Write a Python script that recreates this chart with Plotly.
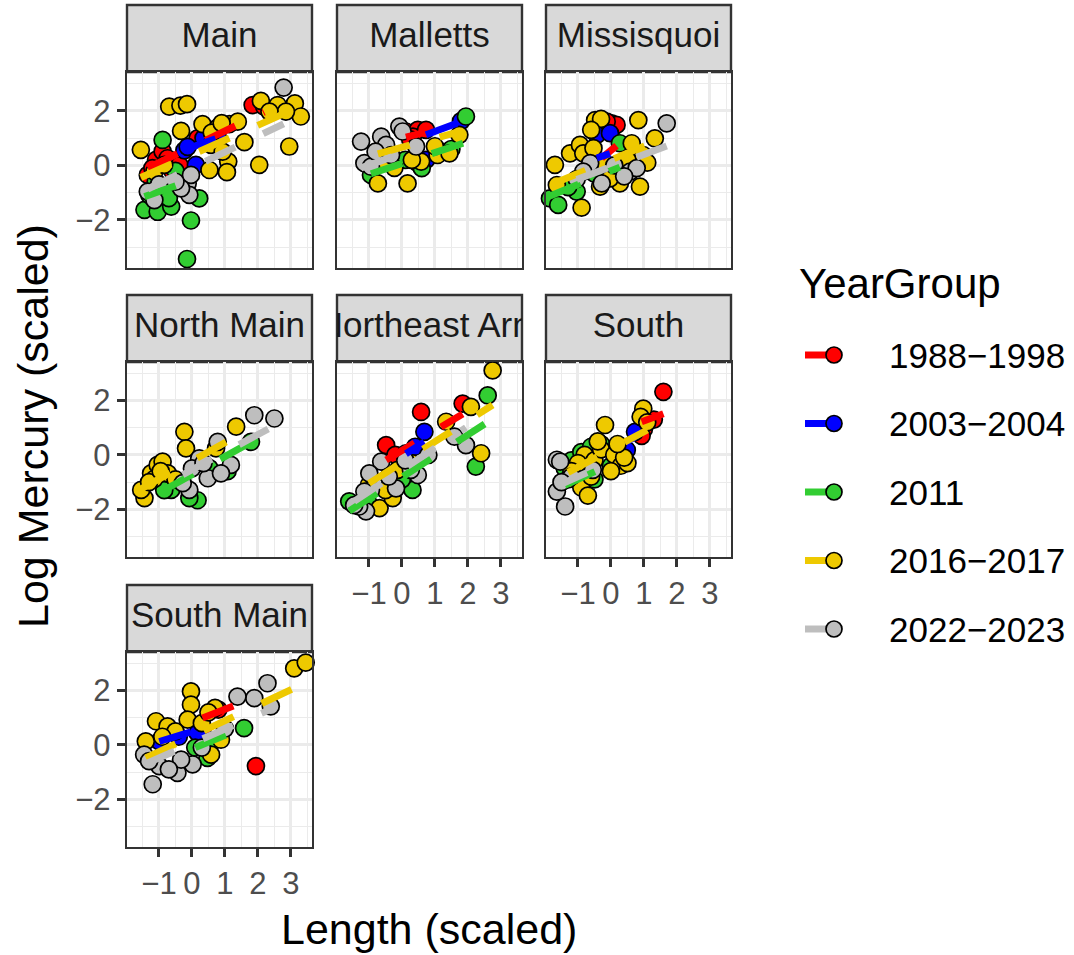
import plotly.graph_objects as go

W, H = 1074, 955

YEAR_GROUPS = ["1988−1998", "2003−2004", "2011", "2016−2017", "2022−2023"]
GROUP_COLORS = ["#FF0000", "#0000FF", "#32CD32", "#EEC900", "#BEBEBE"]
PANELS = ["Main", "Malletts", "Missisquoi", "North Main", "Northeast Arm", "South", "South Main"]
X_TICKS = [-1, 0, 1, 2, 3]
X_TICKTEXT = ["−1", "0", "1", "2", "3"]
Y_TICKS = [-2, 0, 2]
Y_TICKTEXT = ["−2", "0", "2"]
X_TITLE = "Length (scaled)"
Y_TITLE = "Log Mercury (scaled)"
LEGEND_TITLE = "YearGroup"

# ---- observed points: (scaled length, scaled log mercury) ----
main_pts = {
    "1988−1998": [(-1.34, -0.35), (-1.09, 0.20), (-0.89, 0.51), (-0.74, 0.26), (-0.89, -0.96), (-0.38, 0.02),
                  (-1.20, -0.10), (0.17, 0.99), (0.45, 1.10), (1.84, 2.21), (2.19, 2.15), (-0.60, -0.20)],
    "2003−2004": [(-0.23, 0.55), (-0.13, 0.68), (0.12, 0.02), (0.35, 1.00), (0.78, 1.05)],
    "2011": [(-1.44, -1.63), (-1.04, -1.70), (-0.63, -1.51), (-0.89, 0.93), (-1.29, -1.09), (-0.03, -2.02),
             (0.22, -1.21), (-0.15, -3.43), (-0.70, -1.20), (-1.10, -0.60), (-0.50, -0.20)],
    "2016−2017": [(-1.55, 0.57), (-0.69, 2.15), (-0.35, 2.19), (-0.15, 2.24), (-0.33, 1.26), (0.32, 1.51),
                  (0.78, 1.38), (1.13, 1.51), (1.39, 1.60), (1.59, 0.85), (0.53, -0.17), (1.10, 0.14),
                  (1.06, -0.25), (2.04, 0.02), (2.95, 0.69), (2.09, 2.36), (2.60, 2.21), (3.12, 2.27),
                  (3.30, 1.79), (2.85, 1.97), (2.35, 1.97), (-1.14, -0.23), (-0.84, 0.02), (0.58, 0.75),
                  (0.93, 0.50), (0.60, 1.20), (0.90, 1.55)],
    "2022−2023": [(2.78, 2.85), (-0.13, -0.66), (-0.08, -1.08), (-1.34, -0.96), (-1.14, -1.27), (-0.03, -0.35),
                  (-0.33, -0.84), (-1.00, -0.70), (-0.50, -0.60)],
}
malletts_pts = {
    "1988−1998": [(0.12, 1.24), (0.48, 1.30), (0.33, 1.05), (0.73, 1.30), (0.48, 0.08), (0.25, 0.95)],
    "2003−2004": [(0.73, 0.20), (1.79, 1.62)],
    "2011": [(1.94, 1.79), (1.18, 0.50), (-0.94, -0.35), (0.10, 0.20), (0.60, -0.10), (1.50, 0.60)],
    "2016−2017": [(-0.73, -0.66), (0.17, -0.66), (-0.23, -0.09), (0.58, 0.14), (1.08, 0.38), (1.44, 0.44),
                  (1.74, 1.12), (0.30, 0.20), (-0.50, 0.10), (1.00, 0.70)],
    "2022−2023": [(-1.24, 0.87), (-0.63, 1.05), (-0.48, 0.75), (-1.14, 0.08), (-0.94, -0.05), (-0.08, 1.42),
                  (0.02, 1.24), (0.43, 0.69), (-0.33, 0.38), (-0.80, 0.50)],
}
missisquoi_pts = {
    "1988−1998": [(-0.28, 1.54), (0.02, 1.54), (0.17, 1.48), (-0.13, 1.60)],
    "2003−2004": [(-0.43, 1.12), (-0.03, 1.18)],
    "2011": [(-1.85, -1.21), (-1.60, -1.45), (0.27, 0.81), (0.27, -0.17), (-1.04, -0.96), (-1.30, -0.80),
             (-0.50, -0.30)],
    "2016−2017": [(-0.48, 1.66), (-0.30, 1.70), (0.83, 1.66), (-1.70, 0.02), (-1.24, 0.44), (-0.94, 0.75),
                  (-0.84, 0.44), (-0.53, 0.63), (0.12, -0.23), (0.63, 0.81), (1.33, 0.99), (0.88, -0.78),
                  (-0.89, -1.55), (0.27, -0.66), (0.98, 0.38), (-1.64, -0.72), (0.32, -0.11), (-0.33, -0.78),
                  (-0.03, -0.48), (-0.60, 1.30), (0.50, 0.20), (1.10, 0.10), (-0.20, 0.10)],
    "2022−2023": [(1.69, 1.54), (-0.63, 0.08), (0.58, -0.23), (0.78, -0.10), (-0.84, -0.23), (-0.28, -0.66),
                  (-1.04, -0.50), (0.10, 0.00), (0.40, -0.40)],
}
north_main_pts = {
    "1988−1998": [],
    "2003−2004": [],
    "2011": [(0.17, -1.67), (-0.08, -1.59), (-0.63, -1.29), (1.79, 0.48), (1.08, -0.60), (0.53, -0.49),
             (-0.84, -1.30)],
    "2016−2017": [(-1.44, -1.59), (-1.54, -1.29), (-1.24, -0.68), (-1.04, -0.37), (-0.89, -0.25), (-1.14, -0.88),
                  (-0.23, 0.85), (-0.18, 0.24), (-0.73, -0.68), (1.34, 1.04), (0.73, 0.24), (-1.30, -1.00),
                  (-0.95, -0.60), (-0.50, -0.90)],
    "2022−2023": [(1.89, 1.46), (2.50, 1.34), (0.78, 0.48), (0.22, -0.13), (0.48, -0.86), (-0.08, -1.29),
                  (1.18, -0.37), (-0.28, -1.04), (0.88, -0.68), (0.00, -0.50), (0.35, -0.30)],
}
northeast_arm_pts = {
    "1988−1998": [(-0.48, 0.36), (0.58, 1.58), (1.84, 1.89), (-0.20, 0.00)],
    "2003−2004": [(0.68, 0.85), (0.12, 0.06), (0.40, 0.30)],
    "2011": [(-1.60, -1.71), (0.32, -1.29), (2.60, 2.19), (2.24, -0.43), (0.00, -0.90), (-1.00, -1.80)],
    "2016−2017": [(2.75, 3.11), (2.09, 1.77), (2.40, 0.06), (-0.68, -1.96), (-0.28, -1.59), (-0.13, -0.55),
                  (1.34, 1.22), (-1.00, -1.10), (0.30, -0.30), (-0.50, -1.30)],
    "2022−2023": [(-1.09, -2.08), (-0.94, -1.29), (-0.18, -1.23), (-1.14, -1.35), (1.94, 0.36), (1.59, 0.67),
                  (0.48, -0.74), (-0.63, -0.25), (-0.99, -0.68), (0.27, -0.55), (-1.30, -1.90), (-0.40, -0.80),
                  (0.10, -0.20), (0.80, 0.00), (-1.45, -1.85)],
}
south_pts = {
    "1988−1998": [(1.59, 2.32), (1.00, 0.95), (1.30, 1.30), (0.93, 0.70)],
    "2003−2004": [(0.73, 0.85), (0.48, 0.18)],
    "2011": [(-1.20, -0.20), (-0.90, 0.10), (-0.60, 0.30), (-0.30, 0.40), (-1.00, -0.70), (0.00, -0.40),
             (-0.50, -0.90), (-1.40, -0.50)],
    "2016−2017": [(-0.18, 1.10), (0.98, 1.70), (0.90, 1.40), (1.10, 1.20), (-0.80, 0.00), (-1.00, -0.30),
                  (-0.50, -0.20), (-0.30, 0.20), (0.10, 0.00), (0.30, -0.40), (0.50, -0.30), (-1.20, -0.60),
                  (-0.90, -1.20), (-0.60, -0.80), (0.00, -0.60), (-0.40, 0.50), (0.40, -0.10), (-1.30, -0.90),
                  (-0.70, -1.50), (0.20, 0.40)],
    "2022−2023": [(-1.64, -0.18), (-1.54, -0.25), (-1.39, -1.90), (-1.64, -1.35), (-1.20, -0.80), (-1.50, -1.00),
                  (-0.55, -0.55)],
}
south_main_pts = {
    "1988−1998": [(1.94, -0.78), (0.32, 0.50), (0.80, 1.30)],
    "2003−2004": [(0.17, 0.44), (-0.99, 0.13), (-0.40, 0.30)],
    "2011": [(1.58, 0.62), (0.47, -0.48), (0.10, -0.10), (0.60, 0.10)],
    "2016−2017": [(3.10, 2.82), (3.45, 3.03), (-0.03, 1.97), (-0.03, 1.48), (-1.09, 0.87), (-0.74, 0.68),
                  (-1.40, 0.13), (0.70, 1.36), (0.88, 0.19), (0.58, -0.36), (-0.13, 0.93), (-0.50, 0.50),
                  (0.30, 0.80), (0.50, 1.20), (-0.90, 0.30)],
    "2022−2023": [(-1.19, -1.45), (2.29, 2.27), (1.89, 1.72), (1.38, 1.78), (2.39, 1.42), (0.02, -0.72),
                  (-0.44, -1.03), (-1.45, -0.36), (-0.99, -0.78), (-0.33, -0.54), (-0.70, -0.90), (-1.30, -0.60),
                  (0.30, -0.10), (1.00, 0.60)],
}

# ---- fitted linear trends per group: (intercept, slope) ----
main_fit = {"1988−1998": (0.68, 0.58), "2003−2004": (0.67, 0.42), "2011": (-0.54, 0.42),
            "2016−2017": (0.39, 0.54), "2022−2023": (-0.09, 0.58)}
malletts_fit = {"1988−1998": (1.00, 0.30), "2003−2004": (0.79, 0.45), "2011": (0.07, 0.40),
                "2016−2017": (0.66, 0.33), "2022−2023": (0.44, 0.43)}
missisquoi_fit = {"1988−1998": (0.55, 1.00), "2003−2004": (0.44, 0.40), "2011": (-0.20, 0.50),
                  "2016−2017": (0.20, 0.50), "2022−2023": (-0.05, 0.45)}
north_main_fit = {"2011": (-0.73, 0.67), "2016−2017": (-0.22, 0.67), "2022−2023": (-0.55, 0.65)}
northeast_arm_fit = {"1988−1998": (0.16, 0.73), "2003−2004": (-0.05, 0.77), "2011": (-0.82, 0.78),
                     "2016−2017": (-0.28, 0.77), "2022−2023": (-0.55, 0.80)}
south_fit = {"1988−1998": (0.80, 0.45), "2003−2004": (0.15, 0.70), "2011": (-0.35, 0.55),
             "2016−2017": (0.20, 0.65), "2022−2023": (-0.26, 0.54)}
south_main_fit = {"1988−1998": (0.84, 0.47), "2003−2004": (0.49, 0.37), "2011": (-0.15, 0.50),
                  "2016−2017": (0.32, 0.57), "2022−2023": (0.05, 0.53)}

PANEL_POINTS = [main_pts, malletts_pts, missisquoi_pts, north_main_pts, northeast_arm_pts, south_pts, south_main_pts]
PANEL_FITS = [main_fit, malletts_fit, missisquoi_fit, north_main_fit, northeast_arm_fit, south_fit, south_main_fit]

# ---- layout geometry (pixels) ----
COL_X = [(127, 312), (337, 522), (546, 731)]
ROW_STRIP = [(5, 72), (295, 362), (585, 652)]
ROW_PANEL = [(72, 268), (362, 557), (652, 847)]
X_RANGE = [-1.97, 3.64]
Y_RANGE = [-3.76, 3.42]
FONT = "Arial, Liberation Sans, sans-serif"
BORDER = "#333333"
GRID = "#EBEBEB"


def px(x):
    return x / W


def py(y):
    return 1 - y / H


fig = go.Figure()
layout = dict(
    width=W, height=H, autosize=False,
    margin=dict(l=0, r=0, t=0, b=0),
    paper_bgcolor="white", plot_bgcolor="rgba(0,0,0,0)",
    showlegend=False, font=dict(family=FONT),
)
shapes = []
annotations = []

n = len(PANELS)
for i, name in enumerate(PANELS):
    row, col = divmod(i, 3)
    ax = i + 1
    sx = n + i + 1
    x0, x1 = COL_X[col]
    p0, p1 = ROW_PANEL[row]
    s0, s1 = ROW_STRIP[row]
    show_x = (row == 2) or (row == 1 and col > 0)
    show_y = col == 0

    layout[f"xaxis{ax}"] = dict(
        domain=[px(x0), px(x1)], range=X_RANGE, anchor=f"y{ax}",
        tickvals=X_TICKS, ticktext=X_TICKTEXT, showticklabels=show_x,
        ticks="outside" if show_x else "", ticklen=8, tickwidth=3, tickcolor=BORDER,
        tickfont=dict(size=31, color="#4D4D4D", family=FONT),
        showgrid=True, gridcolor=GRID, gridwidth=2.8, zeroline=False,
        minor=dict(tickvals=[-1.5, -0.5, 0.5, 1.5, 2.5, 3.5], showgrid=True, gridcolor=GRID, gridwidth=1.4),
        showline=True, mirror=True, linecolor=BORDER, linewidth=2.4,
    )
    layout[f"yaxis{ax}"] = dict(
        domain=[py(p1), py(p0)], range=Y_RANGE, anchor=f"x{ax}",
        tickvals=Y_TICKS, ticktext=Y_TICKTEXT, showticklabels=show_y,
        ticks="outside" if show_y else "", ticklen=8, tickwidth=3, tickcolor=BORDER,
        tickfont=dict(size=31, color="#4D4D4D", family=FONT),
        showgrid=True, gridcolor=GRID, gridwidth=2.8, zeroline=False,
        minor=dict(tickvals=[-3, -1, 1, 3], showgrid=True, gridcolor=GRID, gridwidth=1.4),
        showline=True, mirror=True, linecolor=BORDER, linewidth=2.4,
    )
    # strip axes (for clipped strip label)
    layout[f"xaxis{sx}"] = dict(domain=[px(x0), px(x1)], range=[0, 1], anchor=f"y{sx}", visible=False)
    layout[f"yaxis{sx}"] = dict(domain=[py(s1), py(s0)], range=[0, 1], anchor=f"x{sx}", visible=False)
    shapes.append(dict(type="rect", xref="paper", yref="paper", x0=px(x0), x1=px(x1), y0=py(s1), y1=py(s0),
                       fillcolor="#D9D9D9", line=dict(color=BORDER, width=2.4), layer="below"))
    fig.add_trace(go.Scatter(x=[0.5], y=[0.5], mode="text", text=[name], textposition="middle center",
                             textfont=dict(size=35, color="#1A1A1A", family=FONT), cliponaxis=True,
                             xaxis=f"x{sx}", yaxis=f"y{sx}", hoverinfo="skip"))

    pts = PANEL_POINTS[i]
    fits = PANEL_FITS[i]
    # points
    for g, colr in zip(YEAR_GROUPS, GROUP_COLORS):
        data = pts.get(g, [])
        if not data:
            continue
        fig.add_trace(go.Scatter(
            x=[p[0] for p in data], y=[p[1] for p in data], mode="markers",
            marker=dict(size=17, color=colr, line=dict(color="black", width=1.7)),
            xaxis=f"x{ax}", yaxis=f"y{ax}", cliponaxis=False, name=g))
    # fitted lines
    for g, colr in zip(YEAR_GROUPS, GROUP_COLORS):
        data = pts.get(g, [])
        if not data or g not in fits:
            continue
        b0, b1 = fits[g]
        xs = [min(p[0] for p in data), max(p[0] for p in data)]
        fig.add_trace(go.Scatter(
            x=xs, y=[b0 + b1 * v for v in xs], mode="lines",
            line=dict(color=colr, width=7, dash="33px,31px"),
            xaxis=f"x{ax}", yaxis=f"y{ax}", name=g))

# axis titles
annotations.append(dict(text=X_TITLE, x=px((COL_X[0][0] + COL_X[2][1]) / 2), y=py(929), xref="paper", yref="paper",
                        showarrow=False, xanchor="center", yanchor="middle",
                        font=dict(size=43, color="black", family=FONT)))
annotations.append(dict(text=Y_TITLE, x=px(33), y=py((ROW_STRIP[0][0] + ROW_PANEL[2][1]) / 2), xref="paper",
                        yref="paper", showarrow=False, textangle=-90, xanchor="center", yanchor="middle",
                        font=dict(size=43, color="black", family=FONT)))

# legend
annotations.append(dict(text=LEGEND_TITLE, x=px(797), y=py(283), xref="paper", yref="paper", showarrow=False,
                        xanchor="left", yanchor="middle", font=dict(size=42, color="black", family=FONT)))
for k, (g, colr) in enumerate(zip(YEAR_GROUPS, GROUP_COLORS)):
    yk = 355 + k * 68.5
    shapes.append(dict(type="line", xref="paper", yref="paper", x0=px(805), x1=px(833), y0=py(yk), y1=py(yk),
                       line=dict(color=colr, width=7)))
    shapes.append(dict(type="circle", xref="paper", yref="paper", x0=px(826), x1=px(842),
                       y0=py(yk + 8), y1=py(yk - 8), fillcolor=colr, line=dict(color="black", width=1.7)))
    annotations.append(dict(text=g, x=px(887), y=py(yk), xref="paper", yref="paper", showarrow=False,
                            xanchor="left", yanchor="middle", font=dict(size=35, color="black", family=FONT)))

layout["shapes"] = shapes
layout["annotations"] = annotations
fig.update_layout(**layout)
fig.write_html("out.html", config={"displayModeBar": False},
               post_script="document.body.style.margin='0px';")
